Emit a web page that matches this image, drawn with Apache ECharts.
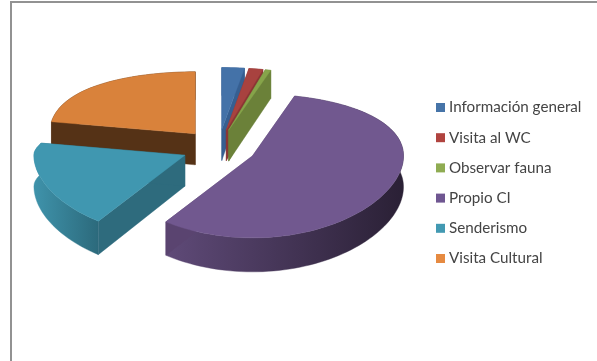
<!DOCTYPE html>
<html>
<head>
<meta charset="utf-8">
<style>html,body{margin:0;padding:0;background:#fff}#c{width:597px;height:361px}</style>
<script src="https://cdn.jsdelivr.net/npm/echarts@6/dist/echarts.min.js"></script>
</head>
<body>
<div id="c"></div>
<script>
const categories = ['Información general','Visita al WC','Observar fauna','Propio CI','Senderismo','Visita Cultural'];
const values = [2.4, 1.5, 0.6, 55.0, 18.3, 22.2];
const topColors = ['#4472a8','#a8423f','#86a44a','#71588f','#4097b0','#d9823b'];
const legendColors = ['#4674a8','#b0433f','#8fac52','#6f5691','#4299b2','#e68a41'];
const cutColors = ['#365f91','#8a3634','#6b8139','#5a4470','#2e6b7d','#553216'];
const arcColors = [['#365f91','#365f91'],['#8a3634','#8a3634'],['#6b8139','#6b8139'],['#5f4a78','#2a2035'],['#3f93ab','#2c6a7c'],['#553216','#553216']];
const drawOrder = [5,0,1,2,4,3];

const total = values.reduce((a,b)=>a+b,0);
const cx=219, cy=148, explode=37, tiltExplode=0.5, rx=151, r=70.6, persp=0.139;
function angles(i){
  let s=0; for(let k=0;k<i;k++) s+=values[k];
  return [s/total*2*Math.PI,(s+values[i])/total*2*Math.PI];
}
function depth(v){return 31+3*v;}
function pt(ax,ay,a){
  const u=Math.sin(a), v=-Math.cos(a);
  const t=Math.min(1,Math.abs(v)/0.17);
  const sx=v<0?(u<0?1-0.035*t*t*Math.pow(u,4):1):1+0.03*v*v;
  return {x:ax+rx*u*sx, y:ay+r*v/(1-persp*v), v:v};
}
function renderSlice(params){
  const i=params.seriesIndex;
  const [a0,a1]=angles(i), mid=(a0+a1)/2;
  const ax=cx+explode*Math.sin(mid), ay=cy-explode*tiltExplode*Math.cos(mid);
  const arc=[]; const n=Math.max(2,Math.ceil((a1-a0)/(Math.PI/90)));
  for(let k=0;k<=n;k++) arc.push(pt(ax,ay,a0+(a1-a0)*k/n));
  const d0=depth(0), children=[];
  const poly=(points,fill)=>({type:'polygon',shape:{points},style:{fill,stroke:fill,lineWidth:0.4}});
  const top=arc.map(p=>[p.x,p.y]);
  const bot=arc.map(p=>[p.x,p.y+depth(p.v)]).reverse();
  const c=arcColors[i];
  const grad=new echarts.graphic.LinearGradient(0,0,1,0,[{offset:0,color:c[0]},{offset:1,color:c[1]}]);
  children.push(poly(top.concat(bot),grad));
  [arc[0],arc[arc.length-1]].forEach(p=>{
    children.push(poly([[ax,ay],[p.x,p.y],[p.x,p.y+depth(p.v)],[ax,ay+d0]],cutColors[i]));
  });
  children.push(poly([[ax,ay]].concat(top),topColors[i]));
  return {type:'group',children};
}
const chart=echarts.init(document.getElementById('c'),null,{renderer:'canvas'});
chart.setOption({
  animation:false,
  backgroundColor:'#ffffff',
  graphic:[{type:'rect',silent:true,z:0,shape:{x:11,y:2,width:800,height:600},style:{fill:'none',stroke:'#929292',lineWidth:2}}],
  legend:{
    orient:'vertical',left:436,top:100,padding:0,itemWidth:9,itemHeight:9,itemGap:15.2,
    selectedMode:false,icon:'rect',
    textStyle:{fontFamily:'Lato',fontSize:15.2,color:'#444444',padding:[0,0,0,-1]},
    data:categories
  },
  series:categories.map((name,i)=>({
    type:'custom',name,coordinateSystem:'none',silent:true,
    z:2+drawOrder.indexOf(i),
    itemStyle:{color:legendColors[i]},
    renderItem:renderSlice,
    data:[[values[i]]]
  }))
});
</script>
</body>
</html>
